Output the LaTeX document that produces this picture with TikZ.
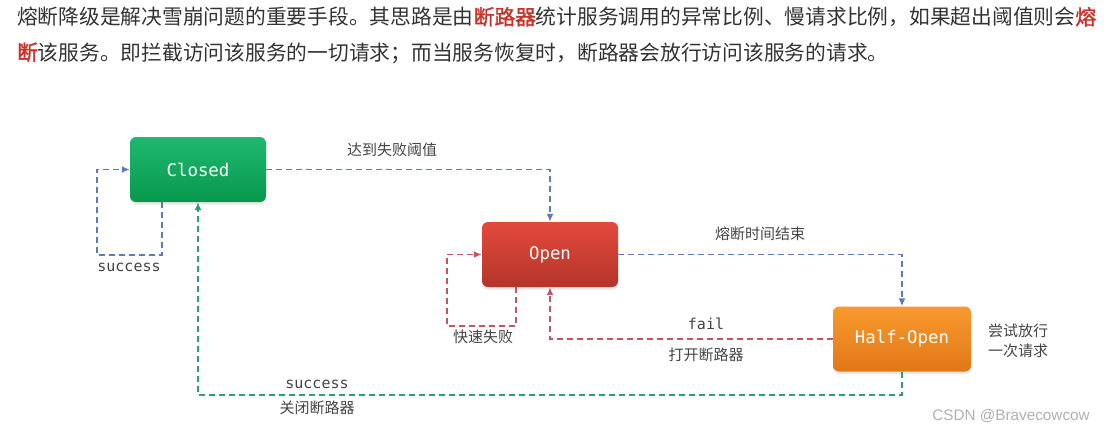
\documentclass[tikz,border=0pt]{standalone}
\usepackage{fontspec}
\setmainfont{Liberation Sans}
\newfontfamily\cjk[AutoFakeBold=1.6]{Noto Sans CJK SC}
\newfontfamily\monof{DejaVu Sans Mono}
\usetikzlibrary{arrows.meta,shadows}
\definecolor{txt}{HTML}{333333}
\definecolor{lbl}{HTML}{444444}
\definecolor{hl}{HTML}{C8322A}
\definecolor{cTop}{HTML}{1FB870}
\definecolor{cBot}{HTML}{07994D}
\definecolor{oTop}{HTML}{E24A3B}
\definecolor{oBot}{HTML}{B5342A}
\definecolor{hTop}{HTML}{F89A2F}
\definecolor{hBot}{HTML}{E27716}
\definecolor{lnBlue}{HTML}{5A7CBE}
\definecolor{lnRed}{HTML}{C2565F}
\definecolor{lnGreen}{HTML}{2E9E78}
\definecolor{wm}{HTML}{B0B0B0}
\tikzset{
  statebox/.style={rectangle, rounded corners=6pt, minimum width=136pt, minimum height=65pt,
    inner sep=0pt, text=white, font=\monof\fontsize{17.4}{20}\selectfont,
    drop shadow={opacity=0.18, shadow xshift=0pt, shadow yshift=-2.5pt}},
  conn/.style={line width=1.6pt, dash pattern=on 6pt off 4pt,
    -{Latex[length=8pt,width=7pt]}},
  cjklabel/.style={font=\cjk\fontsize{15}{18}\selectfont, text=lbl, inner sep=0pt},
  monolabel/.style={font=\monof\fontsize{15}{18}\selectfont, text=lbl, inner sep=0pt},
  para/.style={font=\cjk\fontsize{20.75}{24}\selectfont, text=txt, inner sep=0pt, anchor=west}
}
\begin{document}
\begin{tikzpicture}[x=1pt,y=-1pt]
\useasboundingbox (0,0) rectangle (1107,432);
% paragraph
\node[para] (p1) at (17,17) {熔断降级是解决雪崩问题的重要手段。其思路是由\textcolor{hl}{\textbf{断路器}}统计服务调用的异常比例、慢请求比例，如果超出阈值则会\textcolor{hl}{\textbf{熔}}};
\node[para] (p2) at (17,53) {\textcolor{hl}{\textbf{断}}该服务。即拦截访问该服务的一切请求；而当服务恢复时，断路器会放行访问该服务的请求。};
% states
\node[statebox, top color=cTop, bottom color=cBot] (closed) at (198,169.5) {Closed};
\node[statebox, top color=oTop, bottom color=oBot] (open) at (550,254.5) {Open};
\node[statebox, top color=hTop, bottom color=hBot, minimum width=138pt] (half) at (902,339) {Half-Open};
% connectors
\draw[conn, lnBlue] (closed.east) -| (open.north);
\draw[conn, lnBlue] ([xshift=-36pt]closed.south) -- ++(0,53) -| ([xshift=-33pt]closed.west) -- (closed.west);
\draw[conn, lnBlue] (open.east) -| (half.north);
\draw[conn, lnRed] ([xshift=-34pt]open.south) -- ++(0,39) -| ([xshift=-35pt]open.west) -- (open.west);
\draw[conn, lnRed] (half.west) -| (open.south);
\draw[conn, lnGreen] (half.south) -- ++(0,23) -| (closed.south);
% labels
\node[cjklabel] (l1) at (392,150) {达到失败阈值};
\node[monolabel] (l2) at (129,267) {success};
\node[cjklabel] (l3) at (760,234) {熔断时间结束};
\node[cjklabel] (l4) at (483,337) {快速失败};
\node[monolabel] (l5) at (706,324) {fail};
\node[cjklabel] (l6) at (706,355) {打开断路器};
\node[monolabel] (l7) at (317,384) {success};
\node[cjklabel] (l8) at (317,408) {关闭断路器};
\node[cjklabel, align=center] (l9) at (1018,341) {尝试放行\\[2pt]一次请求};
\node[font=\fontsize{15.3}{18}\selectfont, text=wm, inner sep=0pt] (wmk) at (1011,416) {CSDN @Bravecowcow};
\end{tikzpicture}
\end{document}
